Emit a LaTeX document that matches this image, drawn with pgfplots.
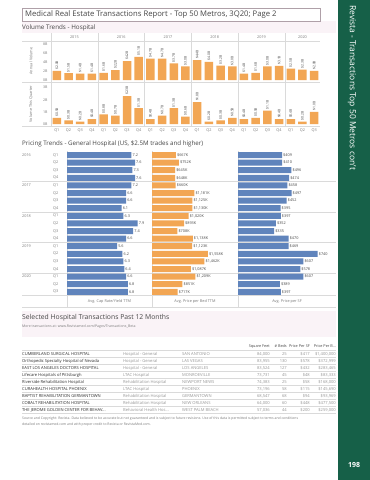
\documentclass[border=0pt]{standalone}
\usepackage{pgfplots}
\usepackage{pgfplotstable}
\pgfplotsset{compat=1.18}
\usepackage{fontspec}
\setmainfont{Open Sans}
\newcommand\fs[1]{\fontsize{#1}{#1}\selectfont}
\definecolor{bOrange}{RGB}{242,166,84}
\definecolor{bBlue}{RGB}{96,132,188}
\definecolor{sideGreen}{RGB}{22,96,72}
\definecolor{txtGrey}{RGB}{120,120,120}
\definecolor{lineGrey}{RGB}{218,218,218}
\definecolor{darkTxt}{RGB}{70,70,70}
\definecolor{nameTxt}{RGB}{45,45,45}
\definecolor{lightTxt}{RGB}{150,150,150}
\definecolor{pinkBg}{RGB}{250,243,247}
\definecolor{boxLine}{RGB}{175,160,168}

\pgfplotstableread{
i ann qtr
0 2.0 0.5
1 1.5 0.3
2 1.4 0.2
3 1.4 0.4
4 1.6 0.8
5 2.2 0.7
6 4.2 2.3
7 5.1 1.3
8 4.7 0.4
9 4.7 0.7
10 3.7 1.3
11 3.0 0.6
12 4.4 1.8
13 4.0 0.2
14 3.2 0.3
15 3.0 0.5
16 1.4 0.4
17 1.6 0.5
18 3.0 1.1
19 3.1 0.4
20 2.5 0.4
21 2.3 0.2
22 2.0 1.0
}\voldata

\pgfplotstableread{
r cap bed sf
0 7.2 667 409
1 7.6 752 410
2 7.3 645 496
3 7.6 648 474
4 7.2 660 458
5 6.6 1181 497
6 6.6 1125 452
7 6.1 1130 395
8 6.3 1020 397
9 7.9 893 352
10 7.4 708 335
11 6.6 1138 470
12 5.6 1123 469
13 6.2 1558 740
14 6.3 1462 607
15 6.4 1087 578
16 6.6 1209 607
17 6.8 851 389
18 6.8 717 397
}\pricedata

\newcommand\trow[8]{%
 \node[anchor=base west,font=\fs{4.1},text=nameTxt,inner sep=0] at (22,#1) {#2};
 \node[anchor=base west,font=\fs{4.1},text=lightTxt,inner sep=0] at (123,#1) {#3};
 \node[anchor=base west,font=\fs{4.1},text=lightTxt,inner sep=0] at (182,#1) {#4};
 \node[anchor=base east,font=\fs{4.1},text=lightTxt,inner sep=0] at (270,#1) {#5};
 \node[anchor=base east,font=\fs{4.1},text=lightTxt,inner sep=0] at (287,#1) {#6};
 \node[anchor=base east,font=\fs{4.1},text=lightTxt,inner sep=0] at (310,#1) {#7};
 \node[anchor=base east,font=\fs{4.1},text=lightTxt,inner sep=0] at (336,#1) {#8};
}

\begin{document}
\begin{tikzpicture}
\useasboundingbox (0pt,0pt) rectangle (370pt,-480pt);
\fill[white] (0pt,0pt) rectangle (370pt,-480pt);
\begin{scope}[x=1pt,y=-1pt]
\fill[pinkBg] (22,21) rectangle (336,33);
\fill[pinkBg] (22,311) rectangle (336,337);
\fill[sideGreen] (338,0) rectangle (370,480);
\node[rotate=-90,anchor=west,text=white,font=\fs{8.5},inner sep=0] at (352,5) {Revista - Transactions Top 50 Metros con't};
\node[text=white,font=\fs{7}\bfseries] at (354,465) {198};
\draw[boxLine,line width=0.5pt] (22,8) rectangle (320,21);
\node[anchor=west,text=darkTxt,font=\fs{7.7},inner sep=0] at (25,14.5) {Medical Real Estate Transactions Report - Top 50 Metros, 3Q20; Page 2};
\node[anchor=west,text=darkTxt,font=\fs{6.3},inner sep=0] at (22,27.5) {Volume Trends - Hospital};
% volume grid
\draw[lineGrey,line width=0.4pt] (22,41) -- (320,41) (22,82) -- (320,82) (22,126.5) -- (320,126.5);
\foreach \xx in {51,97.8,144.6,191.4,238.1,284.9} \draw[lineGrey,line width=0.4pt] (\xx,33) -- (\xx,126.5);
\foreach \xx/\yr in {74.4/2015,121.2/2016,168/2017,214.7/2018,261.5/2019,302.5/2020}
  \node[font=\fs{3.8},text=txtGrey] at (\xx,37) {\yr};
\node[rotate=90,font=\fs{3.8},text=txtGrey] at (31,61) {Annual Volume};
\node[rotate=90,font=\fs{3.8},text=txtGrey] at (31,104) {Volume This Quarter};
% pricing
\node[anchor=west,text=darkTxt,font=\fs{6.2},inner sep=0] at (22,144) {Pricing Trends - General Hospital (US, \$2.5M trades and higher)};
\foreach \yy in {181.6,212,242.4,272.8,295.6} \draw[lineGrey,line width=0.4pt] (22,\yy) -- (336,\yy);
\draw[lineGrey,line width=0.4pt] (22,307) -- (336,307);
\foreach \xx in {67,152,238} \draw[lineGrey,line width=0.4pt] (\xx,151) -- (\xx,307);
\foreach \k/\yr in {0/2016,4/2017,8/2018,12/2019,16/2020}
  \node[anchor=west,font=\fs{3.8},text=txtGrey,inner sep=0] at (22,155+7.6*\k) {\yr};
\foreach \k in {0,...,18}{
  \pgfmathtruncatemacro\q{mod(\k,4)+1}
  \node[anchor=west,font=\fs{3.8},text=txtGrey,inner sep=0] at (53,155+7.6*\k) {Q\q};
}
\node[font=\fs{3.8},text=txtGrey] at (109.5,301.5) {Avg. Cap Rate/Yield TTM};
\node[font=\fs{3.8},text=txtGrey] at (195,301.5) {Avg. Price per Bed TTM};
\node[font=\fs{3.8},text=txtGrey] at (287,301.5) {Avg. Price per SF};
% table
\node[anchor=west,text=darkTxt,font=\fs{6.8},inner sep=0] at (22,318) {Selected Hospital Transactions Past 12 Months};
\node[anchor=west,text=txtGrey,font=\fs{3.5},inner sep=0] at (22,326.5) {More transactions at: www.Revistamed.com/Pages/Transactions\_Beta};
\node[anchor=base east,font=\fs{3.8},text=darkTxt,inner sep=0] at (270,347.5) {Square Feet};
\node[anchor=base east,font=\fs{3.8},text=darkTxt,inner sep=0] at (287,347.5) {\# Beds};
\node[anchor=base east,font=\fs{3.8},text=darkTxt,inner sep=0] at (310,347.5) {Price Per SF};
\node[anchor=base east,font=\fs{3.8},text=darkTxt,inner sep=0] at (336,347.5) {Price Per B...};
\foreach \yy in {350.5,357.5,364.5,371.5,378.5,385.5,392.5,399.5,406.5,413.5} \draw[lineGrey,line width=0.4pt] (22,\yy) -- (336,\yy);
\trow{355.5}{CUMBERLAND SURGICAL HOSPITAL}{Hospital - General}{SAN ANTONIO}{84,000}{25}{\$417}{\$1,400,000}
\trow{362.5}{Orthopedic Specialty Hospital of Nevada}{Hospital - General}{LAS VEGAS}{83,955}{130}{\$578}{\$372,999}
\trow{369.5}{EAST LOS ANGELES DOCTORS HOSPITAL}{Hospital - General}{LOS ANGELES}{83,524}{127}{\$432}{\$283,465}
\trow{376.5}{Lifecare Hospitals of Pittsburgh}{LTAC Hospital}{MONROEVILLE}{73,731}{45}{\$48}{\$83,333}
\trow{383.5}{Riverside Rehabilitation Hospital}{Rehabilitation Hospital}{NEWPORT NEWS}{74,383}{25}{\$58}{\$168,000}
\trow{390.5}{CURAHEALTH HOSPITAL PHOENIX}{LTAC Hospital}{PHOENIX}{73,196}{58}{\$115}{\$145,690}
\trow{397.5}{BAPTIST REHABILITATION GERMANTOWN}{Rehabilitation Hospital}{GERMANTOWN}{68,547}{68}{\$94}{\$93,969}
\trow{404.5}{COBALT REHABILITATION HOSPITAL}{Rehabilitation Hospital}{NEW ORLEANS}{64,000}{60}{\$448}{\$477,500}
\trow{411.5}{THE JEROME GOLDEN CENTER FOR BEHAV...}{Behavioral Health Hos...}{WEST PALM BEACH}{57,036}{44}{\$200}{\$259,000}
\node[anchor=west,text=txtGrey,font=\fs{3.4},inner sep=0] at (22,419) {Source and Copyright: Revista. Data believed to be accurate but not guaranteed and is subject to future revisions. Use of this data is permitted subject to terms and conditions};
\node[anchor=west,text=txtGrey,font=\fs{3.4},inner sep=0] at (22,424.5) {detailed on revistamed.com and with proper credit to Revista or RevistaMed.com.};
\end{scope}

% ---- Annual volume
\begin{axis}[
 at={(51pt,-42pt)}, anchor=north west,
 width=269pt, height=38pt, scale only axis,
 xmin=-0.5, xmax=22.5, ymin=0, ymax=8.4,
 ybar, bar width=8.5pt,
 axis line style={draw=none},
 xtick=\empty, ytick={0,2,4,6,8}, yticklabels={0B,2B,4B,6B,8B},
 yticklabel style={font=\fs{3.6}, text=txtGrey},
 major tick length=0pt,
 point meta=y,
 nodes near coords={\$\pgfmathprintnumber[fixed,fixed zerofill,precision=1,assume math mode=true]{\pgfplotspointmeta}B},
 nodes near coords style={rotate=90, anchor=west, font=\fs{3.4}, text=darkTxt, inner sep=1pt},
 clip=false,
]
\addplot[fill=bOrange, draw=none] table[x=i,y=ann]{\voldata};
\end{axis}

% ---- Quarterly volume
\begin{axis}[
 at={(51pt,-84pt)}, anchor=north west,
 width=269pt, height=40pt, scale only axis,
 xmin=-0.5, xmax=22.5, ymin=0, ymax=3.3,
 ybar, bar width=8.5pt,
 axis line style={draw=none},
 xtick={0,...,22},
 xticklabels={Q1,Q2,Q3,Q4,Q1,Q2,Q3,Q4,Q1,Q2,Q3,Q4,Q1,Q2,Q3,Q4,Q1,Q2,Q3,Q4,Q1,Q2,Q3},
 xticklabel style={font=\fs{3.8}, text=txtGrey, yshift=-1.5pt},
 ytick={0,1,2,3}, yticklabels={0B,1B,2B,3B},
 yticklabel style={font=\fs{3.6}, text=txtGrey},
 major tick length=0pt,
 point meta=y,
 nodes near coords={\$\pgfmathprintnumber[fixed,fixed zerofill,precision=1,assume math mode=true]{\pgfplotspointmeta}B},
 nodes near coords style={rotate=90, anchor=west, font=\fs{3.4}, text=darkTxt, inner sep=1pt},
 clip=false,
]
\addplot[fill=bOrange, draw=none] table[x=i,y=qtr]{\voldata};
\end{axis}

% ---- Cap rate
\begin{axis}[
 at={(67pt,-151.2pt)}, anchor=north west,
 width=85pt, height=144.4pt, scale only axis,
 xbar, bar width=6pt,
 xmin=0, xmax=9.5, ymin=-0.5, ymax=18.5, y dir=reverse,
 axis line style={draw=none}, ticks=none,
 point meta=x,
 nodes near coords={\pgfmathprintnumber[fixed,fixed zerofill,precision=1,assume math mode=true]{\pgfplotspointmeta}},
 nodes near coords style={anchor=west, font=\fs{3.8}, text=darkTxt, inner sep=1pt},
 clip=false,
]
\addplot[fill=bBlue, draw=none] table[x=cap,y=r]{\pricedata};
\end{axis}

% ---- Price per bed
\begin{axis}[
 at={(152pt,-151.2pt)}, anchor=north west,
 width=86pt, height=144.4pt, scale only axis,
 xbar, bar width=6pt,
 xmin=0, xmax=2400, ymin=-0.5, ymax=18.5, y dir=reverse,
 axis line style={draw=none}, ticks=none,
 point meta=x,
 nodes near coords={\$\pgfmathprintnumber[fixed,precision=0,1000 sep={,},assume math mode=true]{\pgfplotspointmeta}K},
 nodes near coords style={anchor=west, font=\fs{3.8}, text=darkTxt, inner sep=1pt},
 clip=false,
]
\addplot[fill=bOrange, draw=none] table[x=bed,y=r]{\pricedata};
\end{axis}

% ---- Price per SF
\begin{axis}[
 at={(238pt,-151.2pt)}, anchor=north west,
 width=84pt, height=144.4pt, scale only axis,
 xbar, bar width=6pt,
 xmin=0, xmax=780, ymin=-0.5, ymax=18.5, y dir=reverse,
 axis line style={draw=none}, ticks=none,
 point meta=x,
 nodes near coords={\$\pgfmathprintnumber[fixed,precision=0,assume math mode=true]{\pgfplotspointmeta}},
 nodes near coords style={anchor=west, font=\fs{3.8}, text=darkTxt, inner sep=1pt},
 clip=false,
]
\addplot[fill=bBlue, draw=none] table[x=sf,y=r]{\pricedata};
\end{axis}
\end{tikzpicture}
\end{document}
